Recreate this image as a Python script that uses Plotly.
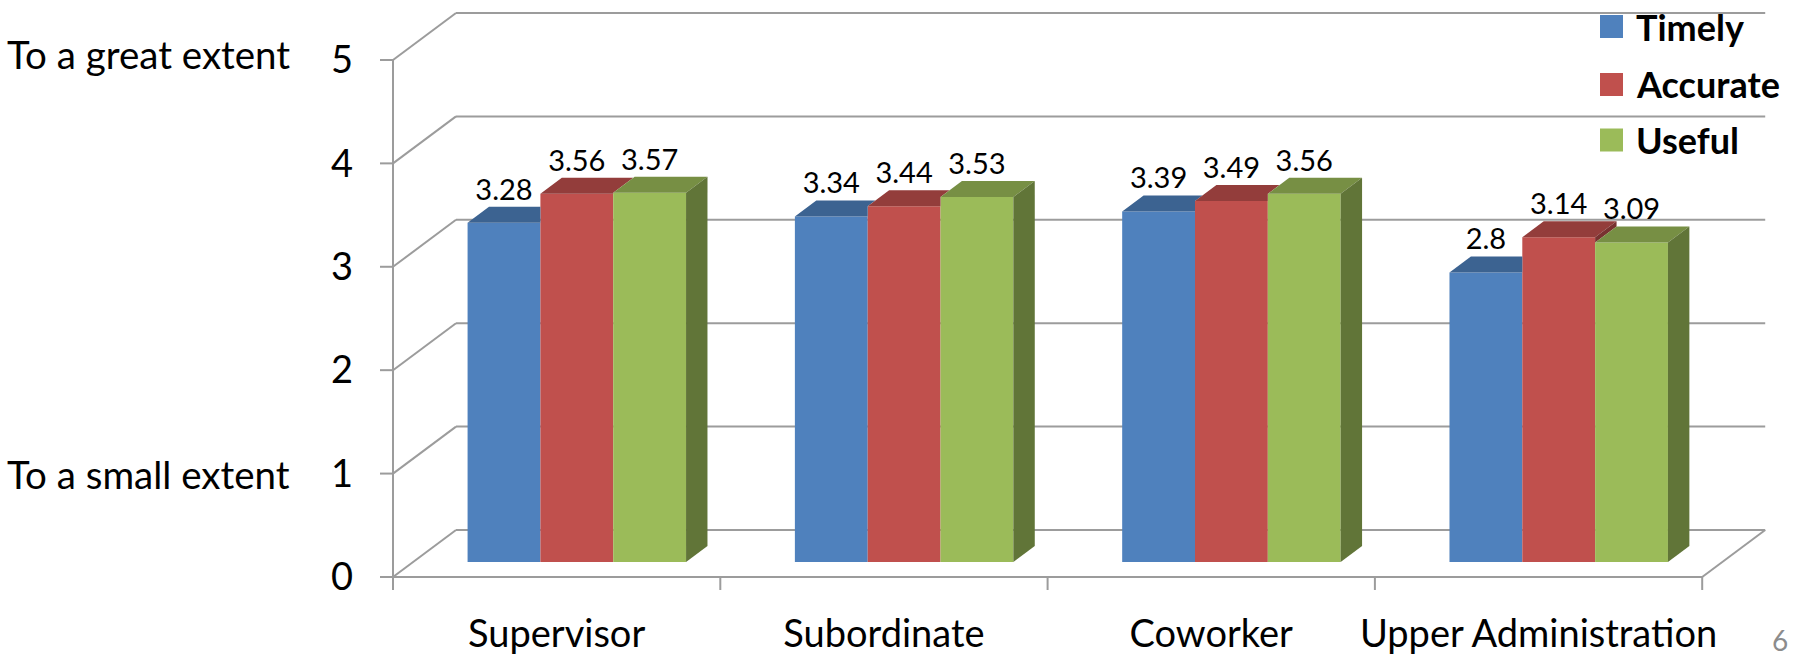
import plotly.graph_objects as go

# ---- data -------------------------------------------------------------
categories = ["Supervisor", "Subordinate", "Coworker", "Upper Administration"]
series_names = ["Timely", "Accurate", "Useful"]
timely = [3.28, 3.34, 3.39, 2.8]
accurate = [3.56, 3.44, 3.49, 3.14]
useful = [3.57, 3.53, 3.56, 3.09]
y_ticks = [0, 1, 2, 3, 4, 5]
scale_labels = {5: "To a great extent", 1: "To a small extent"}
page_number = "6"

series_values = [timely, accurate, useful]
front_colors = ["#4F81BD", "#C0504D", "#9BBB59"]

# ---- pseudo-3D geometry (data units) ----------------------------------
DEPTH_X = 0.1925      # horizontal shift of the back wall, in category units
DEPTH_Y = 0.4545      # vertical shift of the back wall, in value units
Z_FRONT = 0.32        # depth at which bar fronts sit
Z_BAR = 0.34          # bar depth as a fraction of the floor depth
BAR_W = 0.2225        # bar width in category units

base_y = Z_FRONT * DEPTH_Y
shift_x = Z_FRONT * DEPTH_X
dxb = Z_BAR * DEPTH_X
dyb = Z_BAR * DEPTH_Y
n_cat = len(categories)
y_top = max(y_ticks)

FONT = "Lato"
GRID = "#9c9c9c"


def shade(hex_color, f):
    h = hex_color.lstrip("#")
    r, g, b = (int(h[i:i + 2], 16) for i in (0, 2, 4))
    return "#%02x%02x%02x" % (int(r * f), int(g * f), int(b * f))


fig = go.Figure()

# front faces as real bars
geo = []  # per series: list of (xl, xr, top)
for i, (name, vals, col) in enumerate(zip(series_names, series_values, front_colors)):
    xs = [k + 0.5 + shift_x - 1.5 * BAR_W + (i + 0.5) * BAR_W for k in range(n_cat)]
    fig.add_trace(go.Bar(
        x=xs, y=vals, base=base_y, width=BAR_W, name=name,
        marker=dict(color=col, line=dict(width=0)), showlegend=False,
        hoverinfo="skip",
    ))
    geo.append([(x - BAR_W / 2, x + BAR_W / 2, base_y + v) for x, v in zip(xs, vals)])

# top and side faces (only the parts not hidden by the bar to the right)
for k in range(n_cat):
    for i in range(len(series_names)):
        xl, xr, t = geo[i][k]
        nxt = geo[i + 1][k][2] if i + 1 < len(series_names) else None
        c = t if nxt is None else min(max(nxt, t), t + dyb)
        tx = [xl, xr, xr, xr + dxb * (t + dyb - c) / dyb, xl + dxb, xl]
        ty = [t, t, c, t + dyb, t + dyb, t]
        fig.add_trace(go.Scatter(
            x=tx, y=ty, mode="lines", fill="toself", line=dict(width=0),
            fillcolor=shade(front_colors[i], 0.77), showlegend=False, hoverinfo="skip",
        ))
        low = base_y if nxt is None else nxt
        if low < t:
            sx = [xr, xr, xr + dxb, xr + dxb, xr]
            sy = [low, t, t + dyb, low + dyb, low]
            fig.add_trace(go.Scatter(
                x=sx, y=sy, mode="lines", fill="toself", line=dict(width=0),
                fillcolor=shade(front_colors[i], 0.63), showlegend=False, hoverinfo="skip",
            ))

# value labels above each bar
for i, vals in enumerate(series_values):
    fig.add_trace(go.Scatter(
        x=[(g[0] + g[1]) / 2 for g in geo[i]],
        y=[g[2] + dyb for g in geo[i]],
        text=[str(v) for v in vals], mode="text", textposition="top center",
        textfont=dict(family=FONT, size=29, color="black"),
        showlegend=False, hoverinfo="skip",
    ))

# walls, floor and axes
shapes = []
line = dict(color=GRID, width=2)
for v in y_ticks:
    shapes.append(dict(type="line", x0=DEPTH_X, x1=n_cat + DEPTH_X, y0=v + DEPTH_Y, y1=v + DEPTH_Y, line=line, layer="below"))
    shapes.append(dict(type="line", x0=0, x1=DEPTH_X, y0=v, y1=v + DEPTH_Y, line=line, layer="below"))
    shapes.append(dict(type="line", x0=-13 / 327.3, x1=0, y0=v, y1=v, line=line, layer="below"))
shapes.append(dict(type="line", x0=0, x1=n_cat, y0=0, y1=0, line=line, layer="below"))
shapes.append(dict(type="line", x0=n_cat, x1=n_cat + DEPTH_X, y0=0, y1=DEPTH_Y, line=line, layer="below"))
shapes.append(dict(type="line", x0=0, x1=0, y0=0, y1=y_top, line=line, layer="below"))
for k in range(n_cat + 1):
    shapes.append(dict(type="line", x0=k, x1=k, y0=0, y1=-13 / 103.4, line=line, layer="below"))

# legend (pixel layout converted to paper coordinates)
W, H = 1806, 656
ML, MR, MT, MB = 354, 22, 0, 48
PW, PH = W - ML - MR, H - MT - MB


def px(x):
    return (x - ML) / PW


def py(y):
    return (H - MB - y) / PH


annotations = []
leg_y = [26.5, 84.5, 140.0]
for name, col, yc in zip(series_names, front_colors, leg_y):
    shapes.append(dict(type="rect", xref="paper", yref="paper",
                       x0=px(1600), x1=px(1623), y0=py(yc + 11.5), y1=py(yc - 11.5),
                       fillcolor=col, line=dict(width=0)))
    annotations.append(dict(xref="paper", yref="paper", x=px(1634), y=py(yc),
                            xanchor="left", yanchor="middle", text=name, showarrow=False,
                            font=dict(family=FONT, size=36, color="black", weight=700)))

for v, label in scale_labels.items():
    annotations.append(dict(xref="paper", yref="y", x=px(5), y=v, yshift=6 if v == y_top else 0,
                            xanchor="left", yanchor="middle", text=label, showarrow=False,
                            font=dict(family=FONT, size=38.5, color="black")))

annotations.append(dict(xref="paper", yref="paper", x=px(1780), y=py(640),
                        xanchor="center", yanchor="middle", text=page_number, showarrow=False,
                        font=dict(family=FONT, size=28, color="#8c8c8c")))

x_lo = -(393 - ML) / 327.3
y_lo = -0.300
fig.update_layout(
    width=W, height=H,
    margin=dict(l=ML, r=MR, t=MT, b=MB),
    paper_bgcolor="white", plot_bgcolor="white",
    barmode="overlay",
    shapes=shapes, annotations=annotations,
    xaxis=dict(range=[x_lo, x_lo + PW / 327.3], tickvals=[k + 0.5 for k in range(n_cat)],
               ticktext=categories, ticks="", showgrid=False, zeroline=False, showline=False,
               tickfont=dict(family=FONT, size=38, color="black"), automargin=False, fixedrange=True),
    yaxis=dict(range=[y_lo, y_lo + PH / 103.4], tickvals=y_ticks, ticks="", showgrid=False,
               zeroline=False, showline=False,
               tickfont=dict(family=FONT, size=38, color="black"), automargin=False, fixedrange=True),
    showlegend=False,
)

fig.write_html("out.html")
